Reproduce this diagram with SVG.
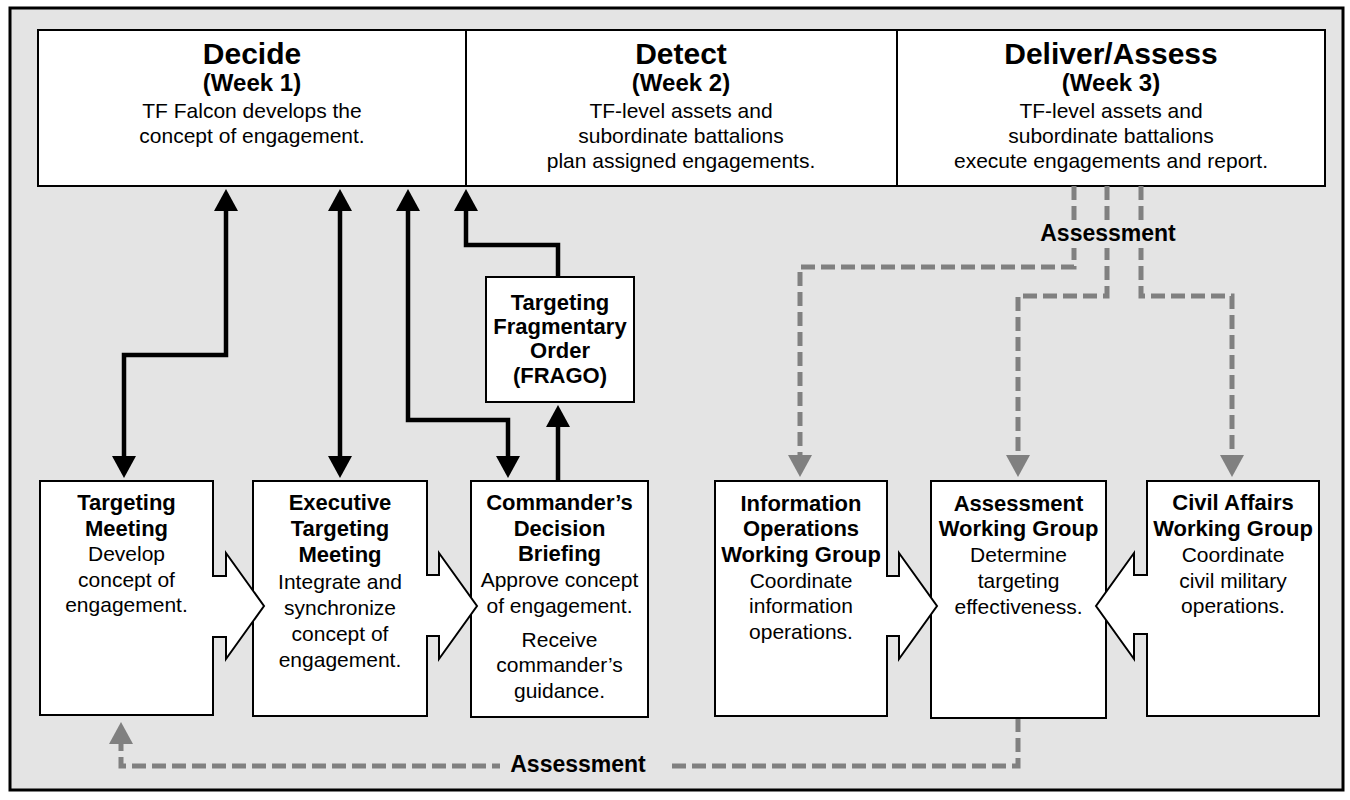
<svg xmlns="http://www.w3.org/2000/svg" width="1350" height="800" viewBox="0 0 1350 800">
  <style>
    text { font-family: "Liberation Sans", Arial, Helvetica, sans-serif; fill: #000; text-anchor: middle; }
    .phase { font-size: 30px; font-weight: bold; }
    .week { font-size: 24px; font-weight: bold; }
    .hbody { font-size: 21px; }
    .title { font-size: 22px; font-weight: bold; }
    .body { font-size: 21px; }
    .lbl { font-size: 23px; font-weight: bold; }
    .box { fill: #fff; stroke: #000; stroke-width: 2; }
    .solid { fill: none; stroke: #000; stroke-width: 4.5; }
    .dash { fill: none; stroke: #808080; stroke-width: 5; stroke-dasharray: 14 6; }
  </style>
  <defs>
    <marker id="headBlack" markerUnits="userSpaceOnUse" markerWidth="24" markerHeight="26" refX="1" refY="12" orient="auto-start-reverse" overflow="visible">
      <path d="M0,0 L22,12 L0,24 Z" fill="#000"/>
    </marker>
    <marker id="headGray" markerUnits="userSpaceOnUse" markerWidth="24" markerHeight="26" refX="1" refY="12" orient="auto" overflow="visible">
      <path d="M0,0 L22,12 L0,24 Z" fill="#808080"/>
    </marker>
  </defs>

  <!-- frame -->
  <rect x="10" y="8" width="1333" height="782" fill="#e4e4e4" stroke="#000" stroke-width="3"/>

  <!-- phase header -->
  <g id="phases">
    <rect class="box" x="38" y="30" width="1287" height="156"/>
    <line x1="466" y1="30" x2="466" y2="186" stroke="#000" stroke-width="2"/>
    <line x1="897" y1="30" x2="897" y2="186" stroke="#000" stroke-width="2"/>
    <g id="decide">
      <text class="phase" x="252" y="64">Decide</text>
      <text class="week" x="252" y="91">(Week 1)</text>
      <text class="hbody" x="252" y="118">TF Falcon develops the</text>
      <text class="hbody" x="252" y="143">concept of engagement.</text>
    </g>
    <g id="detect">
      <text class="phase" x="681" y="64">Detect</text>
      <text class="week" x="681" y="91">(Week 2)</text>
      <text class="hbody" x="681" y="118">TF-level assets and</text>
      <text class="hbody" x="681" y="143">subordinate battalions</text>
      <text class="hbody" x="681" y="168">plan assigned engagements.</text>
    </g>
    <g id="deliver">
      <text class="phase" x="1111" y="64">Deliver/Assess</text>
      <text class="week" x="1111" y="91">(Week 3)</text>
      <text class="hbody" x="1111" y="118">TF-level assets and</text>
      <text class="hbody" x="1111" y="143">subordinate battalions</text>
      <text class="hbody" x="1111" y="168">execute engagements and report.</text>
    </g>
  </g>

  <!-- connectors -->
  <g id="connectors">
    <path class="solid" d="M226,210 V355 H124 V457" marker-start="url(#headBlack)" marker-end="url(#headBlack)"/>
    <path class="solid" d="M340,210 V457" marker-start="url(#headBlack)" marker-end="url(#headBlack)"/>
    <path class="solid" d="M408,210 V420 H508 V457" marker-start="url(#headBlack)" marker-end="url(#headBlack)"/>
    <path class="solid" d="M558,277 V245 H466 V210" marker-end="url(#headBlack)"/>
    <path class="solid" d="M558,481 V426" marker-end="url(#headBlack)"/>

    <path class="dash" d="M1074,186 V267 H800 V456" marker-end="url(#headGray)"/>
    <path class="dash" d="M1107,186 V296 H1018 V456" marker-end="url(#headGray)"/>
    <path class="dash" d="M1141,186 V296 H1232 V456" marker-end="url(#headGray)"/>
    <rect x="1036" y="221" width="144" height="27" fill="#e4e4e4"/>
    <text class="lbl" x="1108" y="241">Assessment</text>

    <path class="dash" d="M1018,718 V766 H121 V743" marker-end="url(#headGray)"/>
    <rect x="500" y="752" width="167" height="28" fill="#e4e4e4"/>
    <text class="lbl" x="578" y="772">Assessment</text>
  </g>

  <!-- Decide-phase meetings (drawn right to left so each arrow overlaps the next box) -->
  <g id="frago">
    <rect class="box" x="486" y="277" width="148" height="125"/>
    <text class="title" x="560" y="310">Targeting</text>
    <text class="title" x="560" y="334">Fragmentary</text>
    <text class="title" x="560" y="358">Order</text>
    <text class="title" x="560" y="383">(FRAGO)</text>
  </g>
  <g id="commanders-decision-briefing">
    <rect class="box" x="471" y="481" width="177" height="236"/>
    <text class="title" x="559.5" y="510">Commander’s</text>
    <text class="title" x="559.5" y="536">Decision</text>
    <text class="title" x="559.5" y="561">Briefing</text>
    <text class="body" x="559.5" y="587">Approve concept</text>
    <text class="body" x="559.5" y="613">of engagement.</text>
    <text class="body" x="559.5" y="647">Receive</text>
    <text class="body" x="559.5" y="672">commander’s</text>
    <text class="body" x="559.5" y="698">guidance.</text>
  </g>
  <g id="executive-targeting-meeting">
    <path class="box" d="M253,481 H427 V575 H439 V553 L477,606 L439,659 V636 H427 V716 H253 Z"/>
    <text class="title" x="340" y="510">Executive</text>
    <text class="title" x="340" y="536">Targeting</text>
    <text class="title" x="340" y="562">Meeting</text>
    <text class="body" x="340" y="589">Integrate and</text>
    <text class="body" x="340" y="615">synchronize</text>
    <text class="body" x="340" y="641">concept of</text>
    <text class="body" x="340" y="667">engagement.</text>
  </g>
  <g id="targeting-meeting">
    <path class="box" d="M40,481 H213 V576 H226 V553 L264,606 L226,659 V637 H213 V715 H40 Z"/>
    <text class="title" x="126.5" y="510">Targeting</text>
    <text class="title" x="126.5" y="536">Meeting</text>
    <text class="body" x="126.5" y="561">Develop</text>
    <text class="body" x="126.5" y="587">concept of</text>
    <text class="body" x="126.5" y="612">engagement.</text>
  </g>

  <!-- Working groups -->
  <g id="assessment-working-group">
    <rect class="box" x="931" y="481" width="175" height="237"/>
    <text class="title" x="1018.5" y="511">Assessment</text>
    <text class="title" x="1018.5" y="536">Working Group</text>
    <text class="body" x="1018.5" y="562">Determine</text>
    <text class="body" x="1018.5" y="588">targeting</text>
    <text class="body" x="1018.5" y="614">effectiveness.</text>
  </g>
  <g id="information-operations-working-group">
    <path class="box" d="M715,481 H887 V576 H899 V553 L937,606 L899,659 V636 H887 V716 H715 Z"/>
    <text class="title" x="801" y="511">Information</text>
    <text class="title" x="801" y="536">Operations</text>
    <text class="title" x="801" y="562">Working Group</text>
    <text class="body" x="801" y="588">Coordinate</text>
    <text class="body" x="801" y="613">information</text>
    <text class="body" x="801" y="639">operations.</text>
  </g>
  <g id="civil-affairs-working-group">
    <path class="box" d="M1147,481 H1319 V716 H1147 V634 H1134 V659 L1096,606 L1134,553 V575 H1147 Z"/>
    <text class="title" x="1233" y="510">Civil Affairs</text>
    <text class="title" x="1233" y="536">Working Group</text>
    <text class="body" x="1233" y="562">Coordinate</text>
    <text class="body" x="1233" y="588">civil military</text>
    <text class="body" x="1233" y="613">operations.</text>
  </g>
</svg>
